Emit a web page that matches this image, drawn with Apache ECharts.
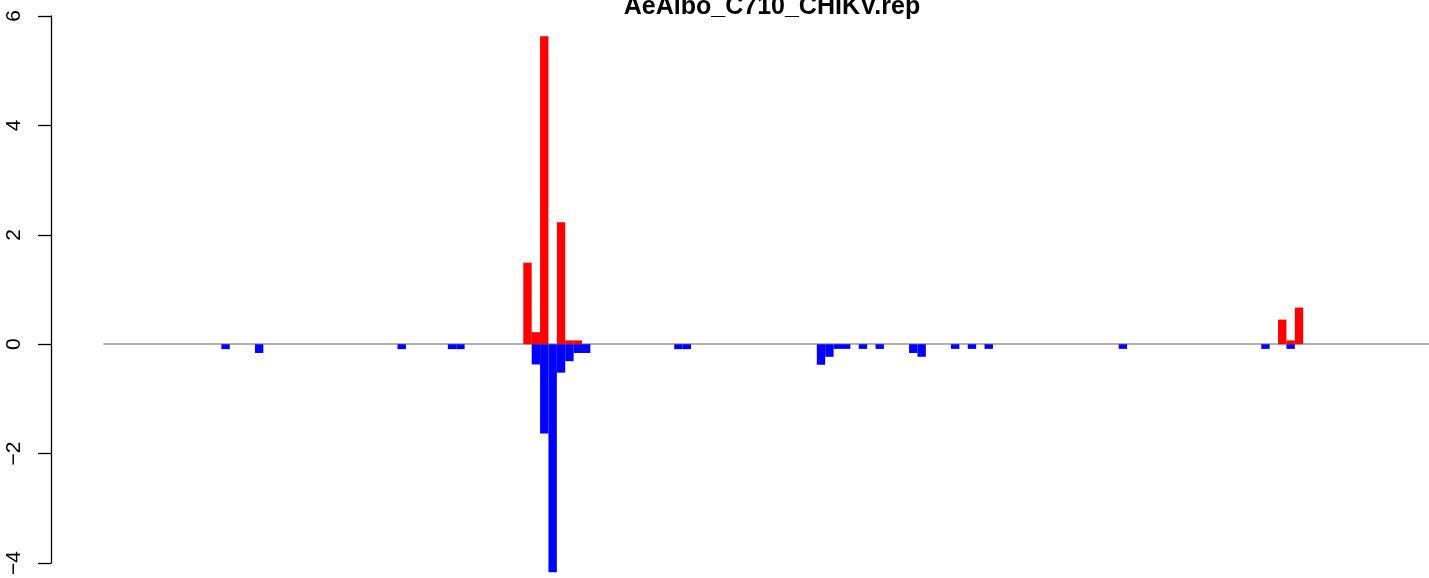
<!DOCTYPE html>
<html>
<head>
<meta charset="utf-8">
<script src="https://cdn.jsdelivr.net/npm/echarts@6/dist/echarts.min.js"></script>
<style>
  html, body { margin: 0; padding: 0; background: #ffffff; overflow: hidden; }
  #chart { width: 1429px; height: 578px; }
</style>
</head>
<body>
<div id="chart"></div>
<script>
// ---- data ----
const titleText = 'AeAlbo_C710_CHIKV.rep';
const binCount = 158;                       // number of bins along the x axis
const yTicks = [-4, -2, 0, 2, 4, 6];

// positive (red) bars: bin index and value
const redBins   = [50, 51, 52, 54, 55, 56, 140, 141, 142];
const redValues = [1.49, 0.22, 5.63, 2.23, 0.07, 0.07, 0.45, 0.07, 0.67];

// negative (blue) bars: bin index and value
const blueBins   = [14, 18, 35, 41, 42, 51, 52, 53, 54, 55, 56, 57,
                    68, 69, 85, 86, 87, 88, 90, 92, 96, 97, 101, 103, 105,
                    121, 138, 141];
const blueValues = [-0.09, -0.16, -0.09, -0.09, -0.09, -0.37, -1.63, -4.17, -0.52, -0.31, -0.16, -0.16,
                    -0.09, -0.09, -0.375, -0.23, -0.085, -0.085, -0.085, -0.085, -0.16, -0.23, -0.085, -0.085, -0.085,
                    -0.085, -0.085, -0.085];

// ---- build series arrays ----
const categories = [];
for (let i = 0; i < binCount; i++) categories.push(String(i + 1));
const redData = new Array(binCount).fill(0);
const blueData = new Array(binCount).fill(0);
redBins.forEach((b, i) => { redData[b] = redValues[i]; });
blueBins.forEach((b, i) => { blueData[b] = blueValues[i]; });

const chart = echarts.init(document.getElementById('chart'), null, { renderer: 'canvas', width: 1429, height: 578 });
chart.setOption({
  animation: false,
  backgroundColor: '#ffffff',
  title: {
    text: titleText,
    left: 767,
    top: -10,
    textAlign: 'center',
    textStyle: { fontFamily: 'Liberation Sans', fontWeight: 'bold', fontSize: 25, color: '#000000' }
  },
  grid: { left: 104, width: 1328, top: 16, height: 552, containLabel: false },
  xAxis: {
    type: 'category',
    data: categories,
    boundaryGap: true,
    axisLine: { show: true, onZero: true, lineStyle: { color: '#9a9a9a', width: 1.5 } },
    axisTick: { show: false },
    axisLabel: { show: false },
    splitLine: { show: false }
  },
  yAxis: {
    type: 'value',
    min: yTicks[0],
    max: yTicks[yTicks.length - 1],
    interval: 2,
    offset: 53,
    axisLine: { show: true, lineStyle: { color: '#000000', width: 1.3 } },
    axisTick: { show: true, length: 13, lineStyle: { color: '#000000', width: 1.3 } },
    axisLabel: {
      rotate: 90,
      margin: 26,
      fontFamily: 'Liberation Sans',
      fontSize: 21,
      color: '#000000',
      formatter: v => (v < 0 ? '\u2212' + Math.abs(v) : String(v))
    },
    splitLine: { show: false }
  },
  series: [
    {
      name: 'plus',
      type: 'bar',
      data: redData,
      barWidth: '100%',
      barGap: '-100%',
      barCategoryGap: 0,
      clip: false,
      itemStyle: { color: '#ff0000' }
    },
    {
      name: 'minus',
      type: 'bar',
      data: blueData,
      barWidth: '100%',
      barGap: '-100%',
      barCategoryGap: 0,
      clip: false,
      itemStyle: { color: '#0000ff' }
    }
  ]
});
</script>
</body>
</html>
